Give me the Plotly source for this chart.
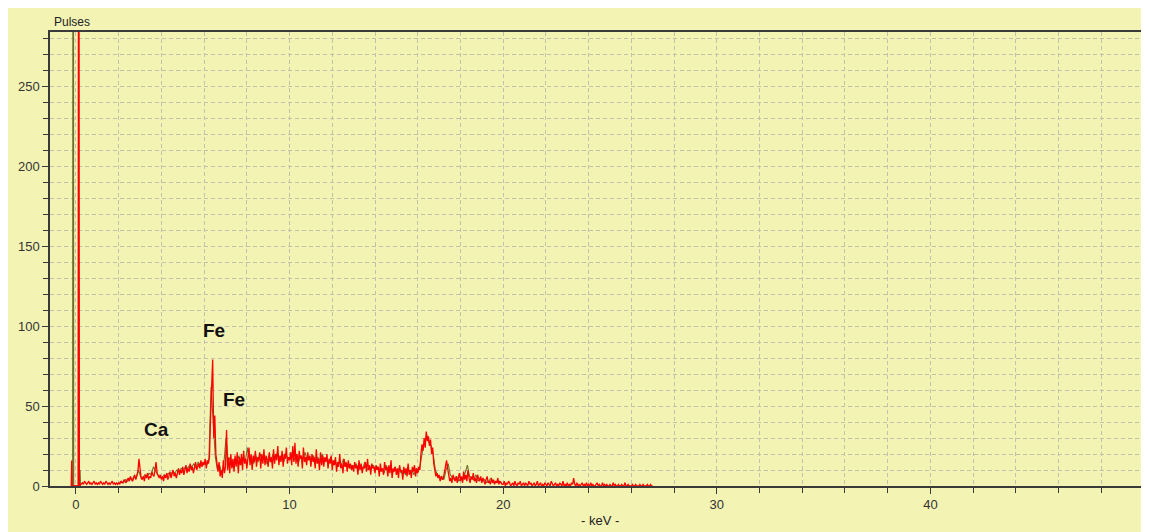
import numpy as np
import plotly.graph_objects as go

# ---------------- data ----------------
# main (red) spectrum: channels every 0.05 keV starting at 0.30 keV
red_start, red_step = 0.30, 0.05
red_counts = [
    # 0.30-0.95
    2,1,3,2,1,2,3,1,2,1,2,3,1,2,
    # 1.00-1.95
    1,2,1,3,2,1,2,1,3,2,1,2,1,2,3,1,2,1,2,1,
    # 2.00-2.95
    2,1,3,2,2,4,3,2,4,5,3,6,4,3,5,7,4,6,9,17,
    # 3.00-3.95
    8,5,4,6,3,7,5,8,4,6,5,9,7,6,10,15,8,6,5,7,
    # 4.00-4.95
    4,6,3,7,5,8,4,6,9,5,7,10,6,8,5,9,11,7,10,8,
    # 5.00-5.95
    12,7,10,13,8,11,9,14,10,12,8,13,15,10,12,14,11,16,12,15,
    # 6.00-6.95
    13,17,11,16,14,18,42,58,79,30,44,20,12,9,15,6,10,5,16,8,
    # 7.00-7.95
    12,35,10,18,8,20,11,17,9,19,12,21,8,18,13,20,10,22,14,17,
    # 8.00-8.95
    11,19,24,13,20,10,19,15,22,12,18,16,21,11,20,14,23,13,19,16,
    # 9.00-9.95
    12,21,15,18,11,23,14,20,16,25,13,19,15,22,12,20,17,24,14,18,
    # 10.00-10.95
    16,21,13,25,15,27,14,20,12,22,17,19,11,24,15,18,13,21,16,19,
    # 11.00-11.95
    12,20,15,18,11,23,14,17,10,21,13,19,12,18,15,20,11,17,14,19,
    # 12.00-12.95
    10,16,13,18,9,15,12,20,11,14,8,17,12,15,9,16,11,14,10,13,
    # 13.00-13.95
    9,15,11,13,7,16,10,14,8,12,11,15,9,17,10,13,7,14,11,12,
    # 14.00-14.95
    8,13,10,12,6,14,9,11,7,15,10,12,6,13,8,16,5,11,9,12,
    # 15.00-15.95
    7,11,5,13,9,10,4,12,8,11,6,14,7,10,5,12,9,13,6,11,
    # 16.00-16.95
    8,12,10,20,26,22,30,24,34,28,31,25,29,20,24,14,10,6,8,5,
    # 17.00-17.95
    7,3,6,4,5,8,12,16,11,6,3,5,2,7,4,3,6,2,5,8,
    # 18.00-18.95
    3,6,2,9,4,7,3,10,5,2,6,4,8,3,5,2,7,4,3,6,
    # 19.00-19.95
    2,5,3,1,4,6,2,3,1,5,2,4,1,3,2,5,1,3,2,1,
    # 20.00-20.95
    1,3,0,2,1,3,2,0,1,2,0,3,1,0,2,1,3,0,1,2,
    # 21.00-21.95
    0,2,1,0,3,1,2,0,1,2,0,1,3,0,1,2,0,1,0,2,
    # 22.00-22.95
    1,0,2,1,0,3,1,0,1,2,0,1,0,2,1,0,3,0,1,0,
    # 23.00-23.95
    2,0,1,0,2,1,5,1,0,2,0,1,0,1,2,0,1,0,2,0,
    # 24.00-24.95
    1,0,2,0,1,0,0,1,2,0,1,0,0,2,0,1,0,1,0,0,
    # 25.00-25.95
    1,0,0,2,0,1,0,0,1,0,0,1,0,0,2,0,0,1,0,0,
    # 26.00-26.95
    0,1,0,0,1,0,0,0,1,0,0,1,0,0,0,1,0,0,1,0,
    # 27.00
    0,
]

# second (olive) acquisition: channels every 0.1 keV starting at 2.025 keV
olive_start, olive_step = 2.025, 0.1
olive_counts = [
    2,3,2,4,3,5,4,6,5,10,
    6,5,7,6,8,7,12,9,7,6,
    5,7,6,8,7,9,8,10,9,11,
    10,12,11,13,12,14,11,15,13,14,
    15,13,17,62,40,18,10,13,8,14,
    30,15,18,12,17,14,19,13,18,15,
    24,16,18,14,19,15,20,16,18,14,
    19,15,20,17,21,16,19,15,20,17,
    18,21,16,20,15,19,17,21,16,18,
    17,19,14,18,16,20,15,17,14,18,
    14,16,12,15,13,17,12,14,11,13,
    12,14,10,13,11,15,10,12,11,13,
    10,12,9,11,8,13,9,11,8,12,
    9,11,8,10,7,12,8,10,7,11,
    9,14,22,28,32,27,25,20,10,7,
    5,6,4,10,14,7,5,4,6,3,
    5,4,8,13,6,5,4,7,3,5,
    3,4,2,3,5,2,3,2,3,2,
]

# zero-peak (noise peak) channels around 0 keV
red_zero_keV = [-0.22, -0.20, -0.18, 0.10, 0.13, 0.16]
red_zero_counts = [0, 16, 0, 0, 600, 0]
olive_zero_keV = [-0.15, -0.13, -0.11, 0.17, 0.19, 0.21]
olive_zero_counts = [0, 600, 0, 0, 10, 0]

# element labels
label_text = ["Fe", "Fe", "Ca"]
label_keV = [6.45, 7.38, 3.76]
label_counts = [97.5, 54, 35.5]

x_range = [-1.215, 50]
y_range = [0, 283.75]

# ---------------- build ----------------
red_keV = red_start + red_step * np.arange(len(red_counts))
olive_keV = olive_start + olive_step * np.arange(len(olive_counts))

RED = "#ff0000"
OLIVE = "#6e6e2c"
BG = "#f3f3b4"
GRID = "#c2c2ac"
AXIS = "#3a3a3a"
FONT = "Liberation Sans, Arial, sans-serif"

fig = go.Figure()
fig.add_trace(go.Scatter(x=olive_zero_keV, y=olive_zero_counts, mode="lines",
                         line=dict(color=OLIVE, width=1.3), hoverinfo="skip"))
fig.add_trace(go.Scatter(x=olive_keV, y=olive_counts, mode="lines",
                         line=dict(color=OLIVE, width=1.1), hoverinfo="skip"))
fig.add_trace(go.Scatter(x=list(red_zero_keV) + list(red_keV),
                         y=list(red_zero_counts) + list(red_counts), mode="lines",
                         line=dict(color=RED, width=1.3), hoverinfo="skip"))

for t, xk, yc in zip(label_text, label_keV, label_counts):
    fig.add_annotation(x=xk, y=yc, text="<b>" + t + "</b>", showarrow=False,
                       font=dict(family=FONT, size=19, color="#111111"))

fig.add_annotation(x=0.002, y=1, xref="paper", yref="paper", text="Pulses",
                   showarrow=False, xanchor="left", yanchor="bottom", yshift=1,
                   font=dict(family=FONT, size=12, color="#222222"))
fig.add_annotation(x=0.503, y=-0.077, xref="paper", yref="paper", text="- keV -",
                   showarrow=False, xanchor="center", yanchor="middle",
                   font=dict(family=FONT, size=13, color="#222222"))

axis_common = dict(
    showline=True, linecolor=AXIS, linewidth=1.5, mirror=True,
    ticks="outside", ticklen=6, tickcolor=AXIS, tickwidth=1.3,
    showgrid=True, gridcolor=GRID, griddash="4px,3px", gridwidth=1,
    zeroline=False,
    tickfont=dict(family=FONT, size=13, color="#333333"),
)

fig.update_xaxes(range=x_range, tick0=0, dtick=10,
                 minor=dict(dtick=2, tick0=0, ticks="outside", ticklen=5,
                            tickcolor=AXIS, showgrid=True, gridcolor=GRID,
                            griddash="4px,3px", gridwidth=1),
                 **axis_common)
fig.update_yaxes(range=y_range, tick0=0, dtick=50,
                 minor=dict(dtick=10, tick0=0, ticks="outside", ticklen=5,
                            tickcolor=AXIS, showgrid=True, gridcolor=GRID,
                            griddash="4px,3px", gridwidth=1),
                 **axis_common)

fig.update_layout(
    width=1141, height=524,
    margin=dict(l=42, r=3, t=24, b=46),
    paper_bgcolor=BG, plot_bgcolor=BG,
    showlegend=False,
)

fig.write_html(
    "out.html",
    post_script="document.documentElement.style.overflow='hidden';"
                "document.body.style.overflow='hidden';",
)
